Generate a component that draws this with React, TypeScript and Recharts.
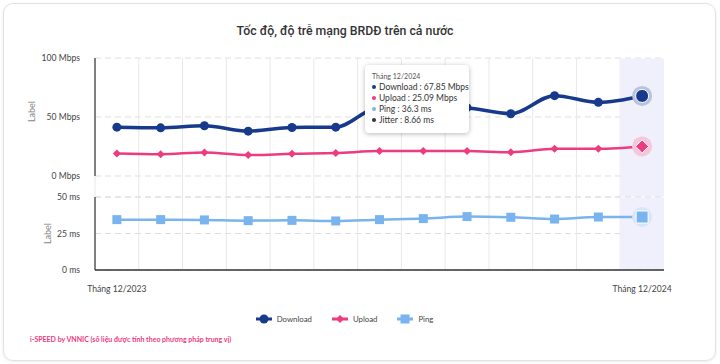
import React from 'react';
import { BarChart, Line, XAxis, YAxis, CartesianGrid, Tooltip, Label } from 'recharts';

// Monthly national mobile broadband measurements (median values)
const months = [
  'Tháng 12/2023', 'Tháng 1/2024', 'Tháng 2/2024', 'Tháng 3/2024', 'Tháng 4/2024',
  'Tháng 5/2024', 'Tháng 6/2024', 'Tháng 7/2024', 'Tháng 8/2024', 'Tháng 9/2024',
  'Tháng 10/2024', 'Tháng 11/2024', 'Tháng 12/2024',
];
const download = [41.4, 40.8, 42.6, 38.0, 41.1, 41.4, 58.5, 59.5, 57.9, 52.8, 68.1, 62.4, 67.85];
const upload = [19.1, 18.5, 20.0, 17.7, 18.8, 19.4, 21.1, 21.1, 21.1, 20.2, 23.0, 23.0, 25.09];
const ping = [34.5, 34.5, 34.3, 33.8, 34.0, 33.6, 34.5, 35.2, 36.6, 36.1, 34.9, 36.3, 36.3];
const jitter: (number | null)[] = [null, null, null, null, null, null, null, null, null, null, null, null, 8.66];

const speedTicks = [0, 50, 100];
const latencyTicks = [0, 25, 50];

const NAVY = '#173a8c';
const PINK = '#ee3a80';
const SKY = '#79b4ee';
const BAND = '#eff0fb';
const FONT = 'Lato, "Noto Sans", sans-serif';

const rows = months.map((month, i) => ({
  month,
  download: download[i],
  upload: upload[i],
  ping: ping[i],
  jitter: jitter[i],
}));

const lastIndex = months.length - 1;

// vertical grid lines sit on the category boundaries
const bandEdges = ({ offset }: any) =>
  Array.from({ length: months.length }, (_, i) => offset.left + (i * offset.width) / months.length);

const circleDot = (p: any) => <circle key={p.key} cx={p.cx} cy={p.cy} r={4.5} fill={NAVY} />;
const diamondPath = (cx: number, cy: number, s: number) =>
  `M${cx},${cy - s}L${cx + s},${cy}L${cx},${cy + s}L${cx - s},${cy}Z`;
const diamondDot = (p: any) => <path key={p.key} d={diamondPath(p.cx, p.cy, 4)} fill={PINK} />;
const squareDot = (p: any) => <rect key={p.key} x={p.cx - 4.5} y={p.cy - 4.5} width={9} height={9} fill={SKY} />;

const circleActive = (p: any) => (
  <g key={p.key}>
    <circle cx={p.cx} cy={p.cy} r={10} fill="#b9c3dc" />
    <circle cx={p.cx} cy={p.cy} r={6.5} fill={NAVY} stroke="#fff" strokeWidth={1} />
  </g>
);
const diamondActive = (p: any) => (
  <g key={p.key}>
    <circle cx={p.cx} cy={p.cy} r={10} fill="#f6c6da" />
    <path d={diamondPath(p.cx, p.cy, 6.5)} fill={PINK} stroke="#fff" strokeWidth={1} />
  </g>
);
const squareActive = (p: any) => (
  <g key={p.key}>
    <circle cx={p.cx} cy={p.cy} r={10} fill="#d6e6f8" />
    <rect x={p.cx - 6} y={p.cy - 6} width={12} height={12} fill={SKY} stroke="#fff" strokeWidth={1} />
  </g>
);

const TipContent = ({ active, payload }: any) => {
  if (!active || !payload || !payload.length) return null;
  const r = payload[0].payload;
  const items = [
    { c: NAVY, t: `Download : ${r.download} Mbps` },
    { c: PINK, t: `Upload : ${r.upload} Mbps` },
    { c: SKY, t: `Ping : ${r.ping} ms` },
    { c: '#333', t: `Jitter : ${r.jitter} ms` },
  ];
  return (
    <div
      style={{
        background: '#fff',
        borderRadius: 4,
        boxShadow: '0 1px 5px rgba(0,0,0,0.28)',
        padding: '6px 9px 7px 7px',
        fontFamily: FONT,
        color: '#333',
        width: 88,
      }}
    >
      <div style={{ fontSize: 7, lineHeight: '10px', color: '#555', marginBottom: 1 }}>{r.month}</div>
      {items.map((it) => (
        <div key={it.t} style={{ fontSize: 8.5, lineHeight: '11px', whiteSpace: 'nowrap' }}>
          <span
            style={{
              display: 'inline-block',
              width: 4,
              height: 4,
              borderRadius: 2,
              background: it.c,
              marginRight: 3,
              verticalAlign: 'middle',
              position: 'relative',
              top: -1,
            }}
          />
          {it.t}
        </div>
      ))}
    </div>
  );
};

const tickStyle = { fontSize: 8.6, fill: '#444', fontFamily: FONT };
const axisTitleStyle = { fontSize: 9, fill: '#888', fontFamily: FONT };

const LegendIcon = ({ kind, color }: { kind: string; color: string }) => (
  <svg width={16} height={10} style={{ verticalAlign: 'middle', marginRight: 5 }}>
    <line x1={0} y1={5} x2={16} y2={5} stroke={color} strokeWidth={3} />
    {kind === 'circle' && <circle cx={8} cy={5} r={4.5} fill={color} />}
    {kind === 'diamond' && <path d={diamondPath(8, 5, 4)} fill={color} />}
    {kind === 'square' && <rect x={3.5} y={0.5} width={9} height={9} fill={color} />}
  </svg>
);

const legendItems = [
  { name: 'Download', kind: 'circle', color: NAVY },
  { name: 'Upload', kind: 'diamond', color: PINK },
  { name: 'Ping', kind: 'square', color: SKY },
];

export default function App() {
  return (
    <div style={{ position: 'absolute', left: 0, top: 0, width: 720, height: 364, background: '#fff', fontFamily: FONT }}>
      <div
        style={{
          position: 'absolute',
          left: 3,
          top: 3,
          width: 711,
          height: 356,
          border: '1px solid #e2e2e2',
          borderRadius: 10,
          boxShadow: '0 1px 3px rgba(0,0,0,0.08)',
        }}
      />
      <div
        style={{
          position: 'absolute',
          left: 0,
          top: 24,
          width: 690,
          textAlign: 'center',
          fontFamily: 'Roboto, sans-serif',
          fontWeight: 500,
          fontSize: 12.3,
          color: '#333',
        }}
      >
        Tốc độ, độ trễ mạng BRDĐ trên cả nước
      </div>

      {/* speed panel */}
      <div style={{ position: 'absolute', left: 0, top: 0 }}>
        <BarChart width={720} height={200} data={rows} margin={{ top: 58, right: 56, bottom: 3, left: 0 }}>
          <CartesianGrid vertical={false} stroke="#dedede" strokeDasharray="6 4" />
          <CartesianGrid horizontal={false} stroke="#e8e8e8" verticalCoordinatesGenerator={bandEdges} />
          <XAxis dataKey="month" hide />
          <YAxis
            width={95}
            domain={[-17.8, 100]}
            ticks={speedTicks}
            allowDataOverflow
            tickFormatter={(v) => `${v} Mbps`}
            tick={tickStyle}
            tickLine={false}
            tickSize={6}
            tickMargin={9}
            axisLine={{ stroke: '#333', strokeWidth: 1.2, strokeDasharray: '118 40' }}
          >
            <Label value="Label" angle={-90} position="center" dx={-16} dy={-16} style={axisTitleStyle} />
          </YAxis>
          <Tooltip
            active
            defaultIndex={lastIndex}
            position={{ x: 365, y: 65 }}
            cursor={{ fill: BAND }}
            content={<TipContent />}
            isAnimationActive={false}
          />
          <Line
            type="monotone"
            dataKey="download"
            stroke={NAVY}
            strokeWidth={3.5}
            dot={circleDot}
            activeDot={circleActive}
            isAnimationActive={false}
          />
          <Line
            type="monotone"
            dataKey="upload"
            stroke={PINK}
            strokeWidth={2.5}
            dot={diamondDot}
            activeDot={diamondActive}
            isAnimationActive={false}
          />
        </BarChart>
      </div>

      {/* latency panel */}
      <div style={{ position: 'absolute', left: 0, top: 180 }}>
        <BarChart width={720} height={120} data={rows} margin={{ top: 17, right: 56, bottom: 0, left: 0 }}>
          <CartesianGrid vertical={false} stroke="#dedede" strokeDasharray="6 4" />
          <CartesianGrid horizontal={false} stroke="#e8e8e8" verticalCoordinatesGenerator={bandEdges} />
          <XAxis
            dataKey="month"
            height={30}
            interval={lastIndex - 1}
            tick={tickStyle}
            tickLine={false}
            tickSize={6}
            tickMargin={10}
            axisLine={{ stroke: '#333', strokeWidth: 1.5 }}
          />
          <YAxis
            width={95}
            domain={[0, 50]}
            ticks={latencyTicks}
            tickFormatter={(v) => `${v} ms`}
            tick={tickStyle}
            tickLine={false}
            tickSize={6}
            tickMargin={9}
            axisLine={{ stroke: '#333', strokeWidth: 1.2 }}
          >
            <Label value="Label" angle={-90} position="center" dx={0} style={axisTitleStyle} />
          </YAxis>
          <Tooltip active defaultIndex={lastIndex} cursor={{ fill: BAND }} content={() => null} isAnimationActive={false} />
          <Line
            type="monotone"
            dataKey="ping"
            stroke={SKY}
            strokeWidth={2.5}
            dot={squareDot}
            activeDot={squareActive}
            isAnimationActive={false}
          />
        </BarChart>
      </div>

      <div
        style={{
          position: 'absolute',
          left: 0,
          top: 312,
          width: 720,
          display: 'flex',
          justifyContent: 'center',
          paddingRight: 31,
          boxSizing: 'border-box',
          fontSize: 7.8,
          color: '#444',
          lineHeight: '14px',
        }}
      >
        {legendItems.map((it) => (
          <span key={it.name} style={{ margin: '0 10px', display: 'inline-flex', alignItems: 'center' }}>
            <LegendIcon kind={it.kind} color={it.color} />
            {it.name}
          </span>
        ))}
      </div>

      <div
        style={{
          position: 'absolute',
          left: 30,
          top: 334,
          fontSize: 7,
          fontWeight: 700,
          color: PINK,
          lineHeight: '11px',
        }}
      >
        i-SPEED by VNNIC (số liệu được tính theo phương pháp trung vị)
      </div>
    </div>
  );
}
